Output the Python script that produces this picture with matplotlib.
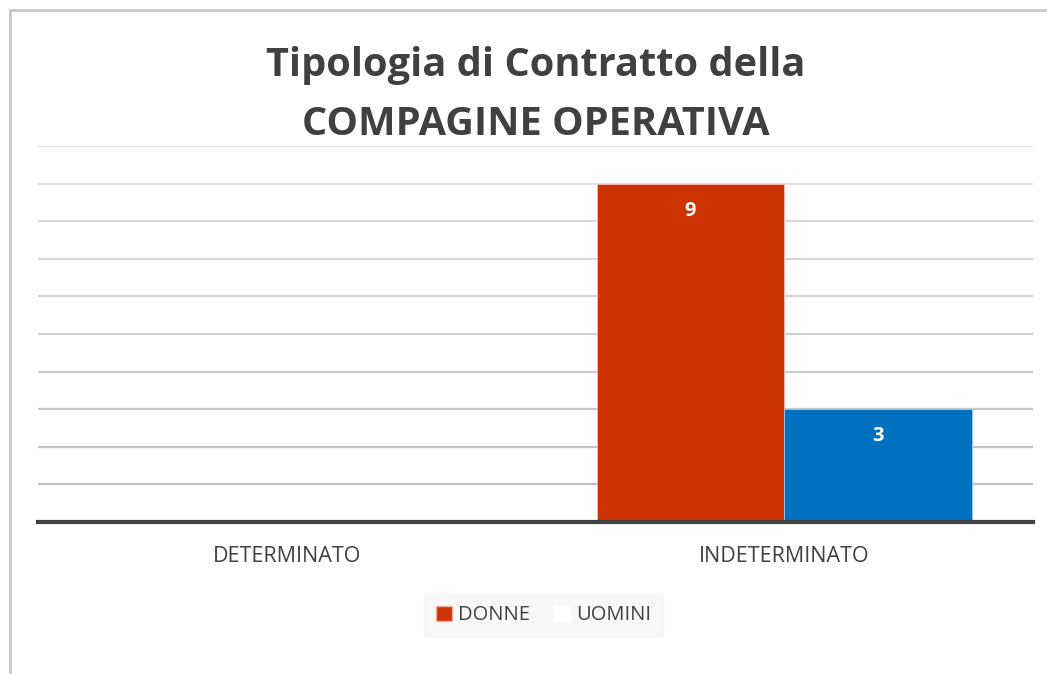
import matplotlib
matplotlib.use("Agg")
import matplotlib.pyplot as plt
from matplotlib.patches import Patch
from matplotlib.lines import Line2D

plt.rcParams['font.family'] = ['Open Sans', 'DejaVu Sans']

# Data
categories = ["DETERMINATO", "INDETERMINATO"]
donne = [0, 9]
uomini = [0, 3]
title = "Tipologia di Contratto della\nCOMPAGINE OPERATIVA"

red = "#cc3300"
blue = "#0070c0"
text_col = "#404040"

fig = plt.figure(figsize=(10.47, 6.74), dpi=100)
ax = fig.add_axes([0.0363, 0.2255, 0.9503, 0.5579])

x = list(range(len(categories)))
w = 0.377
ax.bar([i - w / 2 for i in x], donne, w, color=red, edgecolor="#f0c0b0", linewidth=0.6, zorder=3)
ax.bar([i + w / 2 for i in x], uomini, w, color=blue, edgecolor="#a0c8e8", linewidth=0.6, zorder=3)

# value labels inside top of the bars
for i in x:
    if donne[i] > 0:
        ax.text(i - w / 2, donne[i] - 0.72, str(donne[i]), ha="center", va="center",
                color="white", fontsize=14.5, fontweight="bold", zorder=4)
    if uomini[i] > 0:
        ax.text(i + w / 2, uomini[i] - 0.72, str(uomini[i]), ha="center", va="center",
                color="white", fontsize=14.5, fontweight="bold", zorder=4)

ax.set_xlim(-0.5, 1.5)
ax.set_ylim(0, 10)
ax.set_yticks(range(1, 11))
ax.tick_params(axis="y", left=False, labelleft=False)
ax.tick_params(axis="x", length=0, pad=17, labelsize=15.5, labelcolor=text_col)
ax.set_xticks(x)
ax.set_xticklabels(categories)
ax.grid(axis="y", linewidth=1.6, zorder=0)
# gridlines get a bit darker toward the bottom
glines = ax.get_ygridlines()
for k, gl in enumerate(glines):
    shade = 0.75 + 0.14 * k / max(len(glines) - 1, 1)
    gl.set_color((shade, shade, shade))
for s in ["left", "right", "top"]:
    ax.spines[s].set_visible(False)
ax.spines["bottom"].set_color(text_col)
ax.spines["bottom"].set_linewidth(3)
ax.spines["bottom"].set_zorder(5)

fig.text(0.512, 0.859, title, ha="center", va="center", fontsize=28.6,
         fontweight="bold", color=text_col, linespacing=1.65)

handles = [Patch(facecolor=red, edgecolor="#f0b0a0"), Patch(facecolor="white", edgecolor="white")]
leg = fig.legend(handles, ["DONNE", "UOMINI"], loc="center", bbox_to_anchor=(0.519, 0.087),
                 ncol=2, frameon=True, fontsize=14.5, handlelength=0.8, handleheight=0.8,
                 handletextpad=0.3, columnspacing=1.2, borderpad=0.6, labelcolor=text_col)
leg.get_frame().set_facecolor("#f7f7f7")
leg.get_frame().set_edgecolor("#f7f7f7")
leg.get_frame().set_boxstyle("square", pad=0)

# outer border (left and top only visible)
fig.add_artist(Line2D([0.0095, 0.0095], [0, 0.985], transform=fig.transFigure, color="#c8c8c8", linewidth=2))
fig.add_artist(Line2D([0.0095, 1], [0.985, 0.985], transform=fig.transFigure, color="#c8c8c8", linewidth=2))

fig.savefig("out.png", dpi=100, facecolor="white")
